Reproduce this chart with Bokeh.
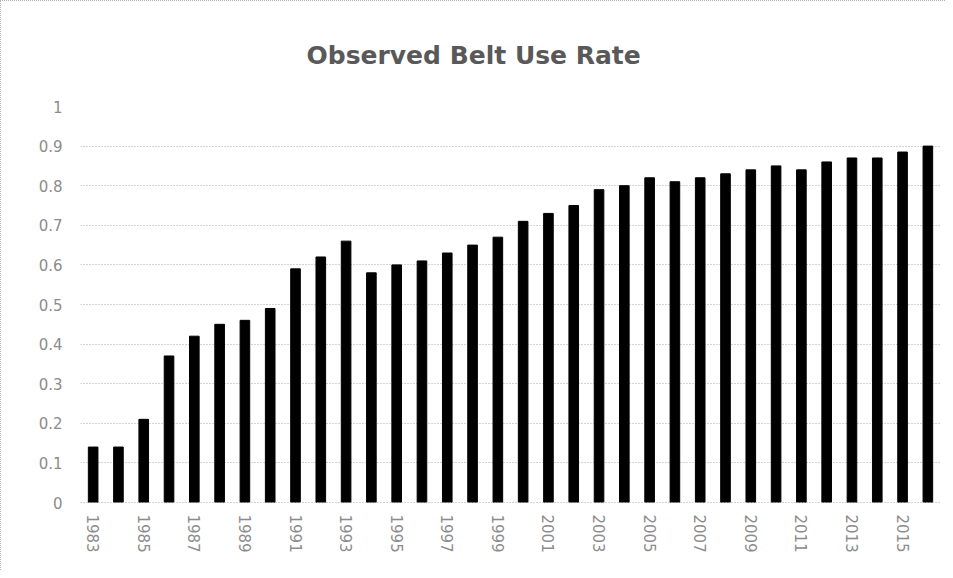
import math
from bokeh.plotting import figure
from bokeh.models import FixedTicker, NumeralTickFormatter, ColumnDataSource
from bokeh.embed import file_html
from bokeh.resources import INLINE

years = list(range(1983, 2017))
belt_use = [0.14, 0.14, 0.21, 0.37, 0.42, 0.45, 0.46, 0.49, 0.59, 0.62,
            0.66, 0.58, 0.60, 0.61, 0.63, 0.65, 0.67, 0.71, 0.73, 0.75,
            0.79, 0.80, 0.82, 0.81, 0.82, 0.83, 0.84, 0.85, 0.84, 0.86,
            0.87, 0.87, 0.885, 0.90]
x_ticks = list(range(1983, 2016, 2))
y_ticks = [0, 0.1, 0.2, 0.3, 0.4, 0.5, 0.6, 0.7, 0.8, 0.9, 1.0]
title_text = "Observed Belt Use Rate"

src = ColumnDataSource(dict(year=years, rate=belt_use))

p = figure(width=945, height=570, output_backend="svg", toolbar_location=None,
           x_range=(years[0] - 0.5, years[-1] + 0.5), y_range=(0, 1.0),
           title=title_text,
           min_border_left=79, min_border_right=6, min_border_top=105,
           min_border_bottom=69)

p.vbar(x="year", top="rate", width=0.38, source=src,
       fill_color="black", line_color="black")

p.title.align = "left"
p.title.offset = 226
p.title.text_font = "DejaVu Sans"
p.title.text_font_size = "25px"
p.title.text_font_style = "bold"
p.title.text_color = "#595959"
p.title.standoff = 73

p.outline_line_color = None
p.xgrid.grid_line_color = None
p.ygrid.grid_line_color = "#a8a8a8"
p.ygrid.grid_line_dash = "1 2"
p.ygrid.ticker = FixedTicker(ticks=y_ticks)

p.yaxis.ticker = FixedTicker(ticks=y_ticks)
p.yaxis.formatter = NumeralTickFormatter(format="0.[0]")
p.yaxis.axis_line_color = None
p.yaxis.major_tick_line_color = None
p.yaxis.minor_tick_line_color = None
p.yaxis.major_label_standoff = 12
p.yaxis.major_label_text_font = "DejaVu Sans"
p.yaxis.major_label_text_font_size = "15px"
p.yaxis.major_label_text_color = "#8c8c8c"

p.xaxis.ticker = FixedTicker(ticks=x_ticks)
p.xaxis.axis_line_color = "#a8a8a8"
p.xaxis.axis_line_dash = "1 2"
p.xaxis.major_tick_line_color = None
p.xaxis.minor_tick_line_color = None
p.xaxis.major_label_orientation = -math.pi / 2
p.xaxis.major_label_standoff = 6
p.xaxis.major_label_text_font = "DejaVu Sans"
p.xaxis.major_label_text_font_size = "15px"
p.xaxis.major_label_text_color = "#8c8c8c"

p.styles = {"border-top": "1px dotted #b0b0b0", "border-left": "1px dotted #b0b0b0"}

open("out.html", "w").write(file_html(p, INLINE))
